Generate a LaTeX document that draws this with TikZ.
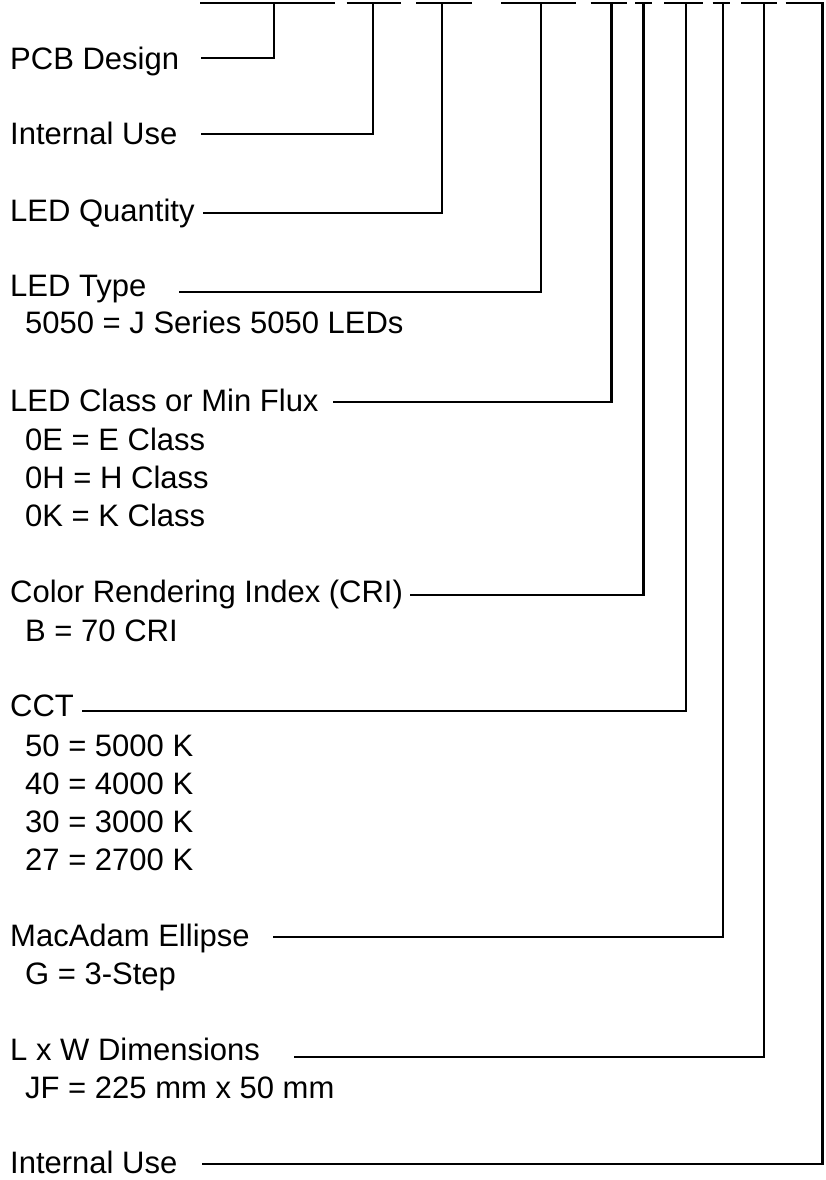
\documentclass[tikz,border=0pt]{standalone}
\usepackage{fontspec}
\setmainfont{Liberation Sans}
\usepackage{tikz}

\begin{document}
\begin{tikzpicture}[x=1pt, y=-1pt,
    head/.style={anchor=base west, inner sep=0pt, font=\fontsize{31}{37}\selectfont},
    sub/.style={head},
    lead/.style={line width=2.2pt, black}]
    % FULL (MARGES)
    \path[use as bounding box, fill=white] (0,0) rectangle (825,1180);

    % GUIONS DEL CODI
    \foreach \a/\b in {200/335, 346.7/401, 416/471.7, 501/575.7, 590.7/626.7,
                       635/651.7, 664.3/703.3, 712.7/730, 741/777.3, 785.7/823.7} {
        \draw[lead] (\a,3) -- (\b,3);
    }

    % CAMPS I LINIES
    \foreach \n/\t/\yb/\xs/\yl/\xv in {
        pcb/PCB Design/69.5/201/58.3/274,
        intuse/Internal Use/145/201/134.3/373,
        qty/LED Quantity/221.7/203/212.7/442,
        type/LED Type/296.7/179/292.3/541,
        class/LED Class or Min Flux/411.7/333/402.3/611.5,
        cri/Color Rendering Index (CRI)/602.7/410/595.3/643.5,
        cct/CCT/716.7/82/710.7/685.7,
        mac/MacAdam Ellipse/946/273/937.3/722.7,
        dims/L x W Dimensions/1060.7/294/1056.7/763.7,
        intusetwo/Internal Use/1173/202/1164/822.5} {
        \node[head] (\n) at (10,\yb) {\t};
        \coordinate (\n-s) at (\xs,\yl);
        \coordinate (\n-t) at (\xv,3);
        \draw[lead] (\n-s) -| (\n-t);
    }

    % OPCIONS
    \foreach \n/\t/\yb in {
        type1/5050 = J Series 5050 LEDs/333.3,
        class1/0E = E Class/450,
        class2/0H = H Class/488.3,
        class3/0K = K Class/526.7,
        cri1/B = 70 CRI/641,
        cct1/50 = 5000 K/756,
        cct2/40 = 4000 K/794.3,
        cct3/30 = 3000 K/832.3,
        cct4/27 = 2700 K/870,
        mac1/G = 3-Step/984,
        dims1/JF = 225 mm x 50 mm/1098.3} {
        \node[sub] (\n) at (25,\yb) {\t};
    }
\end{tikzpicture}
\end{document}
